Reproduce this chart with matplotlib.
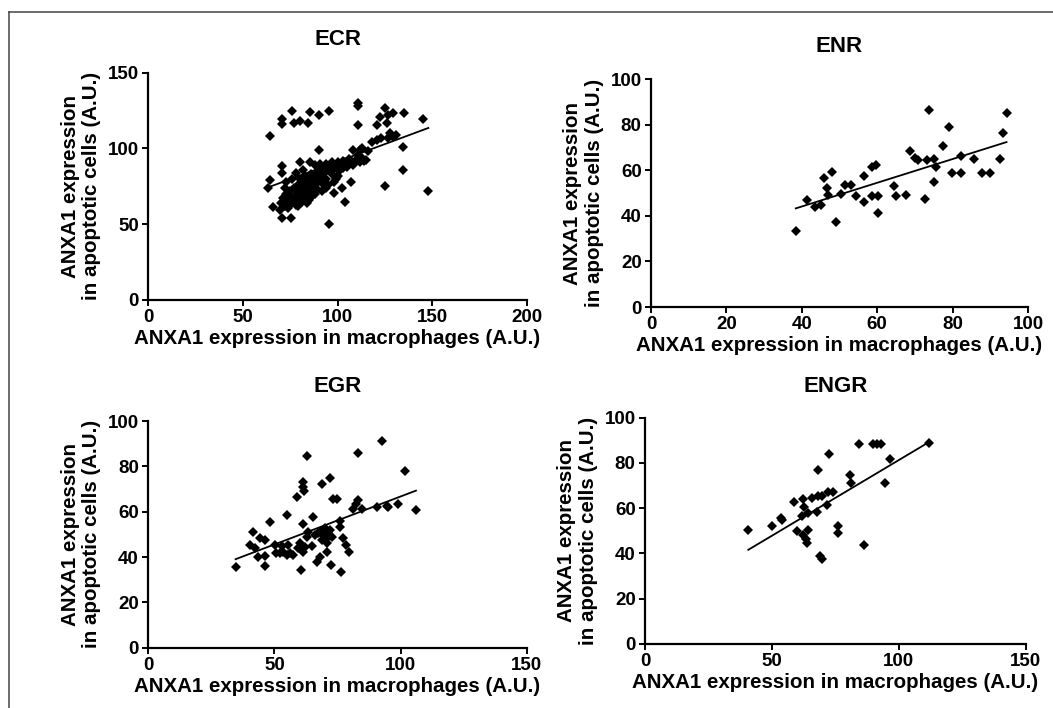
import numpy as np
import matplotlib
matplotlib.use("Agg")
import matplotlib.pyplot as plt
from matplotlib.lines import Line2D

plt.rcParams['font.family'] = ['Liberation Sans', 'DejaVu Sans']
plt.rcParams['font.weight'] = 'bold'

W, H = 1053, 708

X_LABEL = "ANXA1 expression in macrophages (A.U.)"
Y_LABEL = "ANXA1 expression\nin apoptotic cells (A.U.)"

# ECR: (macrophages, apoptotic cells)
ecr_points = [
    (64.3, 108.2), (75.8, 124.9), (85.5, 124.3), (90.2, 122.1), (95.5, 124.9),
    (70.5, 119.2), (70.5, 116.1), (77, 116.6), (80.2, 118.3), (84.6, 116.6),
    (111, 129.8), (111, 128), (111, 115.5), (125.1, 126.5), (122.5, 121),
    (126.9, 122), (129.5, 123.2), (126, 116.6), (120.7, 115.5), (135.3, 123.2),
    (145, 119.2), (129.5, 107.8), (126.9, 106.7), (120.7, 105.6), (131, 108.9),
    (134.4, 101.2), (90.4, 99), (108.4, 99), (111.9, 99), (134.4, 85.8),
    (125.1, 75.2), (148, 72.1), (95.5, 50.1), (104, 64.9), (98.3, 70.8),
    (102.2, 74.1), (107, 77.6), (70.5, 53.9), (75.2, 53.9), (69.6, 59.4),
    (66.1, 61.6), (64.3, 79.2), (63.4, 73.7), (70.5, 88.4), (70.5, 83.6),
    (80.2, 91.3), (85.5, 91.3), (118, 104), (123, 107), (128, 110),
    (113, 100), (116, 98), (115, 92.4),
    (70, 64), (71, 67), (72, 62), (73, 70), (74, 65), (75, 68), (75, 72),
    (76, 64), (77, 66), (77, 74), (78, 69), (78, 63), (79, 71), (79, 76),
    (80, 67), (80, 73), (80, 80), (81, 65), (81, 78), (82, 70), (82, 75),
    (83, 68), (83, 82), (84, 72), (84, 77), (85, 80), (85, 66), (86, 74),
    (86, 83), (87, 78), (87, 70), (88, 81), (88, 76), (89, 84), (89, 73),
    (90, 79), (90, 86), (91, 82), (92, 77), (92, 88), (93, 84), (94, 80),
    (95, 86), (95, 76), (96, 89), (97, 83), (98, 87), (99, 80), (100, 89),
    (101, 85), (102, 90), (103, 87), (104, 91), (105, 88), (106, 90),
    (107, 92), (108, 89), (110, 92), (112, 91), (113, 94), (111, 96),
    (76, 80), (73, 78), (78, 84), (82, 86), (72, 74), (74, 61), (79, 62),
    (84, 64), (86, 68), (88, 70), (92, 72), (94, 74), (98, 78), (100, 82),
    (88, 89), (91, 90), (94, 90), (97, 91), (100, 91), (103, 92), (106, 93),
    (109, 92), (114, 92), (71, 65), (73, 64), (76, 67), (82, 67), (84, 69),
]
ecr_fit = (0.463, 45.0)  # slope, intercept

# ENR
enr_points = [
    (38.4, 33.2), (41.3, 47.1), (43.5, 43.7), (45.2, 44.6), (45.8, 56.6),
    (46.6, 52.2), (47, 49.3), (48.1, 59.2), (49, 37.3), (50.5, 49.6),
    (51.4, 53.7), (53, 53.7), (54.5, 48.8), (56.5, 45.9), (56.4, 57.6),
    (58.5, 61.7), (59.8, 62.3), (58.5, 48.8), (60.1, 48.8), (60.2, 41.5),
    (64.4, 53.2), (64.9, 48.8), (67.6, 49.4), (68.6, 68.7), (70, 65.4),
    (70.8, 64.6), (72.6, 47.4), (73.1, 64.6), (73.7, 86.3), (75, 64.9),
    (75.5, 61.7), (75, 54.7), (77.5, 70.9), (79.1, 78.9), (79.9, 58.8),
    (82.3, 66.1), (82.3, 58.8), (85.6, 64.9), (87.9, 58.8), (90, 58.8),
    (92.5, 64.9), (93.4, 76.3), (94.3, 85.4),
]
enr_fit = (0.521, 23.3)

# EGR
egr_points = [
    (34.6, 35.7), (41.6, 50.9), (40.3, 45.3), (42.3, 43.8), (44.3, 48.2),
    (46.3, 47.5), (48.2, 55.6), (43.6, 40.1), (46.3, 40.4), (46.3, 36.2),
    (50.2, 45.3), (50.6, 41.6), (52.9, 44.9), (54.8, 58.5), (55.5, 45.3),
    (56.2, 41.6), (57.5, 40.9), (58.8, 66.6), (61.2, 73.2), (61.4, 71),
    (61.8, 69.1), (63, 84.7), (61.2, 54.6), (60.5, 34.3), (61.4, 42.4),
    (62, 44.6), (65.4, 57.8), (64.8, 44.9), (66.1, 49.7), (68.7, 72.2),
    (68, 51.2), (66.7, 37.9), (68, 40.1), (70.7, 42.4), (70.7, 48.2),
    (72, 74.7), (72, 51.9), (72.7, 49), (73.4, 65.6), (74.7, 65.6),
    (72.3, 36.5), (76, 56), (76, 53.4), (76.4, 33.2), (77.3, 48.2),
    (78.4, 45.3), (79.7, 42.4), (81.3, 61), (82.3, 63.2), (83.3, 65.1),
    (83.3, 85.7), (84.6, 61), (90.5, 62.2), (94.5, 62.5), (95.2, 62.2),
    (92.5, 91.3), (99.1, 63.2), (101.8, 78.1), (106.1, 60.7),
    (67.4, 50.4), (69.4, 49.7), (70, 52.6), (71.4, 50.4), (68.7, 47.5),
    (70.7, 46), (62.8, 49), (63.4, 51.2), (59.5, 43.8), (60.1, 46),
    (53.5, 42.4), (54.8, 40.9), (52.2, 41.6),
]
egr_fit = (0.423, 24.4)

# ENGR
engr_points = [
    (40.7, 50.5), (49.9, 52), (53.5, 55.6), (53.9, 54.6), (58.7, 62.6),
    (59.8, 49.7), (62.1, 64.1), (62.7, 60.5), (61.7, 56.4), (62.4, 48.3),
    (63.4, 46.3), (63.7, 44.6), (64.4, 50.5), (64.4, 57.9), (65.7, 64.5),
    (67.6, 58.2), (68.3, 65.2), (68.3, 76.8), (69, 38.7), (69.6, 37.5),
    (71.6, 61.5), (72.2, 67), (72.5, 83.7), (74.2, 67), (76.2, 52.3),
    (76.2, 49), (80.8, 74.8), (81, 71.1), (84.3, 88.4), (86.3, 43.5),
    (90, 88.4), (91.6, 88.4), (92.9, 88.4), (94.6, 71.1), (96.5, 81.8),
    (111.9, 88.9), (69.6, 65.5),
]
engr_fit = (0.668, 14.4)


def px_rect(left, right, top, bottom):
    return [left / W, 1 - bottom / H, (right - left) / W, (bottom - top) / H]


def draw_panel(ax, points, fit, title, xmax, ymax, xstep, ystep, title_pad):
    pts = np.array(points)
    ax.plot(pts[:, 0], pts[:, 1], linestyle='none', marker='D', ms=5.4,
            color='black', mew=0)
    slope, intercept = fit
    xs = np.array([pts[:, 0].min(), pts[:, 0].max()])
    ax.plot(xs, slope * xs + intercept, color='black', lw=1.3)

    ax.set_xlim(0, xmax)
    ax.set_ylim(0, ymax)
    ax.set_xticks(np.arange(0, xmax + 1, xstep))
    ax.set_yticks(np.arange(0, ymax + 1, ystep))
    for side in ('top', 'right'):
        ax.spines[side].set_visible(False)
    for side in ('left', 'bottom'):
        ax.spines[side].set_linewidth(1.6)
    ax.tick_params(direction='out', length=4.2, width=1.4, labelsize=13.5, pad=2.5)
    for lab in ax.get_xticklabels() + ax.get_yticklabels():
        lab.set_fontweight('bold')

    ax.set_title(title, fontsize=16, fontweight='bold', pad=title_pad)
    ax.set_xlabel(X_LABEL, fontsize=14.8, fontweight='bold', labelpad=2)
    ax.set_ylabel(Y_LABEL, fontsize=14.8, fontweight='bold', labelpad=5,
                  linespacing=1.15)


fig = plt.figure(figsize=(W / 100, H / 100), dpi=100)

ax1 = fig.add_axes(px_rect(148.3, 526.7, 72.7, 300))
draw_panel(ax1, ecr_points, ecr_fit, "ECR", 200, 150, 50, 50, 20)

ax2 = fig.add_axes(px_rect(651, 1028, 79.3, 307))
draw_panel(ax2, enr_points, enr_fit, "ENR", 100, 100, 20, 20, 19.5)

ax3 = fig.add_axes(px_rect(148.3, 526.7, 421, 647.7))
draw_panel(ax3, egr_points, egr_fit, "EGR", 150, 100, 50, 20, 21)

ax4 = fig.add_axes(px_rect(645, 1025.7, 417.5, 644))
draw_panel(ax4, engr_points, engr_fit, "ENGR", 150, 100, 50, 20, 18.5)

# thin frame along top and left edge
fig.add_artist(Line2D([9 / W, 1], [1 - 12 / H, 1 - 12 / H], color='#444444', lw=1.1))
fig.add_artist(Line2D([9 / W, 9 / W], [0, 1 - 12 / H], color='#444444', lw=1.1))

fig.savefig("out.png", dpi=100)
